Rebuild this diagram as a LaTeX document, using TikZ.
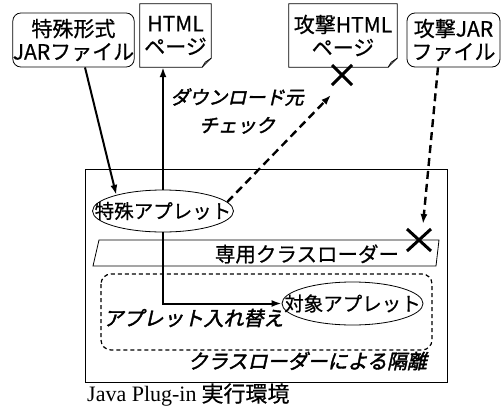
\documentclass[tikz,border=0pt]{standalone}
\usepackage{fontspec}
\setmainfont[FakeBold=0.6]{Noto Sans CJK JP}
\newfontfamily\jpit[FakeSlant=0.22,FakeBold=2]{Noto Sans CJK JP}
\newfontfamily\serifrm{Liberation Serif}
\usetikzlibrary{arrows.meta,shapes.geometric,calc}
\begin{document}
\begin{tikzpicture}[x=1pt,y=-1pt,
  font=\fontsize{21pt}{23pt}\selectfont,
  rbox/.style={draw, line width=0.8pt, rounded corners=8pt, align=center, inner sep=0pt},
  pagebox/.style={align=center, inner sep=0pt},
  ell/.style={draw, ellipse, line width=0.8pt, inner sep=0pt},
  elltext/.style={inner sep=0pt, font=\fontsize{19.5pt}{23pt}\selectfont},
  thinline/.style={line width=0.8pt},
  arr/.style={line width=2pt, -{Latex[length=10pt,width=7pt]}},
  dasharr/.style={line width=2.4pt, dash pattern=on 8pt off 5pt, -{Latex[length=10pt,width=7pt]}},
  xmark/.style={line width=3pt},
  itlabel/.style={font=\fontsize{20pt}{28pt}\selectfont\jpit, align=center, inner sep=0pt}
]
\useasboundingbox (0,0) rectangle (504,410);

% top boxes
\node[rbox, minimum width=117pt, minimum height=54pt] (jar) at (73.5,40) {特殊形式\\JARファイル};
\node[pagebox, minimum width=71pt, minimum height=63pt] (html) at (175.5,35.5) {HTML\\ページ};
\node[pagebox, minimum width=108pt, minimum height=63pt] (atkhtml) at (343,35.5) {攻撃HTML\\ページ};
\node[rbox, minimum width=93pt, minimum height=54pt] (atkjar) at (453.5,40) {攻撃JAR\\ファイル};

\foreach \p in {html,atkhtml}{
  \draw[thinline] (\p.north west) -- (\p.north east) -- ([yshift=9pt]\p.south east)
    -- ([xshift=-9pt]\p.south east) -- (\p.south west) -- cycle;
  \draw[thinline] ([yshift=9pt]\p.south east) -- ([xshift=-6pt,yshift=5pt]\p.south east) -- ([xshift=-9pt]\p.south east);
}

% environment
\node[draw, thinline, minimum width=362pt, minimum height=213pt, inner sep=0pt] (env) at (266,275.5) {};
\node[anchor=west, inner sep=0pt, font=\fontsize{22pt}{24pt}\selectfont] (envlabel) at (87,395) {{\serifrm Java Plug-in} 実行環境};

\node[ell, minimum width=141pt, minimum height=42pt] (ap1) at (163,211) {};
\node[elltext] (ap1text) at (ap1.center) {特殊アプレット};

\draw[thinline] (93,266) -- (99,240) -- (439,240) -- (436,266) -- cycle;
\node[inner sep=0pt, font=\fontsize{20.5pt}{23pt}\selectfont] (loader) at (307,254) {専用クラスローダー};

\draw[thinline, line width=1.2pt, dash pattern=on 4pt off 3pt, rounded corners=10pt] (101,274) rectangle (432,350);
\node[ell, minimum width=141pt, minimum height=43pt] (ap2) at (352.5,303.5) {};
\node[elltext] (ap2text) at (ap2.center) {対象アプレット};

\node[itlabel] (swap) at (193.5,318) {アプレット入れ替え};
\node[itlabel] (isol) at (307.5,361) {クラスローダーによる隔離};
\node[itlabel, font=\fontsize{19pt}{28pt}\selectfont\jpit] (dlcheck) at (237,111) {ダウンロード元\\チェック};

% connectors
\draw[arr] ([xshift=11.5pt]jar.south) -- (ap1.161);
\draw[arr] (ap1.north) -- (ap1.north |- html.south);
\draw[arr] (ap1.south) |- (ap2.west);

\coordinate (tip1) at (331,95);
\coordinate (x1) at (342,75);
\draw[dasharr] (ap1.8) -- (tip1);
\draw[xmark] ($(x1)+(-10,-10)$) -- ($(x1)+(10,10)$);
\draw[xmark] ($(x1)+(-10,10)$) -- ($(x1)+(10,-10)$);

\coordinate (tip2) at (423,224);
\coordinate (x2) at (419,240);
\draw[dasharr] ([xshift=-15.5pt]atkjar.south) -- (tip2);
\draw[xmark] ($(x2)+(-12,-11)$) -- ($(x2)+(12,11)$);
\draw[xmark] ($(x2)+(-12,11)$) -- ($(x2)+(12,-11)$);
\end{tikzpicture}
\end{document}
